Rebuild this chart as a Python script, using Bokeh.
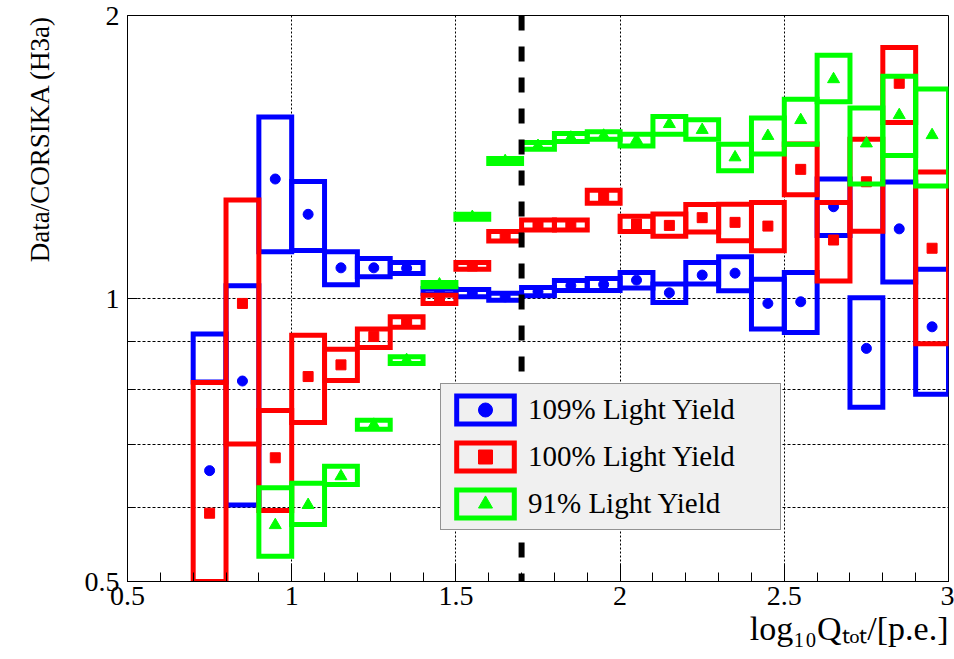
from bokeh.plotting import figure
from bokeh.models import (ColumnDataSource, FixedTicker, PrintfTickFormatter,
                          Span, Legend, LegendItem, Title)
from bokeh.embed import file_html
from bokeh.resources import INLINE

# log10(Q_tot / p.e.) bin centres, bins are 0.1 wide
log_q = [0.75, 0.85, 0.95, 1.05, 1.15, 1.25, 1.35, 1.45, 1.55, 1.65, 1.75, 1.85,
         1.95, 2.05, 2.15, 2.25, 2.35, 2.45, 2.55, 2.65, 2.75, 2.85, 2.95]
log_q_91 = [0.95, 1.05, 1.15, 1.25, 1.35, 1.45, 1.55, 1.65, 1.75, 1.85,
            1.95, 2.05, 2.15, 2.25, 2.35, 2.45, 2.55, 2.65, 2.75, 2.85, 2.95]
bin_half_width = 0.05

# 109% light yield: ratio and systematic band
ratio_109 = [0.656, 0.817, 1.340, 1.229, 1.078, 1.078, 1.077, 1.019, 1.013, 1.004, 1.017, 1.032,
             1.035, 1.046, 1.014, 1.059, 1.064, 0.988, 0.992, 1.252, 0.885, 1.186, 0.933]
sys_lo_109 = [0.815, 0.603, 1.121, 1.125, 1.034, 1.055, 1.063, 1.012, 1.004, 0.996, 1.007, 1.020,
              1.020, 1.026, 0.990, 1.036, 1.019, 0.928, 0.920, 1.167, 0.766, 1.041, 0.791]
sys_hi_109 = [0.917, 1.032, 1.560, 1.332, 1.121, 1.103, 1.092, 1.025, 1.022, 1.013, 1.027, 1.045,
              1.050, 1.066, 1.036, 1.092, 1.108, 1.048, 1.066, 1.340, 1.002, 1.330, 1.074]

# 100% light yield
ratio_100 = [0.591, 0.988, 0.677, 0.826, 0.850, 0.911, 0.944, 0.998, 1.083, 1.165, 1.197, 1.197,
             1.284, 1.200, 1.196, 1.219, 1.205, 1.194, 1.372, 1.154, 1.331, 1.694, 1.131]
sys_lo_100 = [0.500, 0.700, 0.595, 0.738, 0.818, 0.887, 0.932, 0.988, 1.074, 1.151, 1.183, 1.183,
              1.263, 1.178, 1.165, 1.177, 1.152, 1.124, 1.289, 1.044, 1.179, 1.539, 0.895]
sys_hi_100 = [0.814, 1.273, 0.760, 0.914, 0.883, 0.928, 0.956, 1.008, 1.092, 1.178, 1.212, 1.212,
              1.304, 1.223, 1.230, 1.259, 1.260, 1.265, 1.460, 1.265, 1.477, 1.849, 1.363]

# 91% light yield
ratio_91 = [0.574, 0.603, 0.647, 0.734, 0.860, 1.035, 1.221, 1.400, 1.453, 1.483,
            1.490, 1.474, 1.533, 1.511, 1.413, 1.489, 1.548, 1.711, 1.462, 1.567, 1.492]
sys_lo_91 = [0.532, 0.575, 0.634, 0.726, 0.853, 1.029, 1.214, 1.392, 1.441, 1.469,
             1.477, 1.453, 1.495, 1.477, 1.367, 1.425, 1.459, 1.619, 1.324, 1.419, 1.317]
sys_hi_91 = [0.629, 0.636, 0.663, 0.742, 0.867, 1.040, 1.229, 1.409, 1.465, 1.498,
             1.504, 1.495, 1.562, 1.549, 1.459, 1.556, 1.629, 1.815, 1.595, 1.723, 1.671]

legend_labels = ["109% Light Yield", "100% Light Yield", "91% Light Yield"]
x_title = "log\u2081\u2080Q\u209c\u2092\u209c/[p.e.]"
y_title = "Data/CORSIKA (H3a)"
x_ticks = [0.5, 1.0, 1.5, 2.0, 2.5, 3.0]
y_ticks = [0.5, 1.0, 2.0]
y_minor_ticks = [0.6, 0.7, 0.8, 0.9]
cut_position = 1.7

FONT = "Liberation Serif"
W, H = 954, 659


def make_source(centres, ratio, lo, hi):
    return ColumnDataSource(dict(
        x=centres,
        left=[c - bin_half_width for c in centres],
        right=[c + bin_half_width for c in centres],
        val=ratio, lo=lo, hi=hi,
    ))


p = figure(width=W, height=H, x_range=(0.5, 3.0), y_range=(0.5, 2.0),
           y_axis_type="log", output_backend="svg", toolbar_location=None,
           min_border_left=127, min_border_right=6, min_border_top=15,
           min_border_bottom=78)
p.title.visible = False
p.background_fill_color = "white"
p.border_fill_color = "white"
p.outline_line_color = "black"
p.outline_line_width = 1

series = [
    (log_q, ratio_109, sys_lo_109, sys_hi_109, "#0000ff", "circle", 10),
    (log_q, ratio_100, sys_lo_100, sys_hi_100, "#ff0000", "square", 10),
    (log_q_91, ratio_91, sys_lo_91, sys_hi_91, "#00ff00", "triangle", 12),
]

items = []
for (centres, ratio, lo, hi, color, marker, size), label in zip(series, legend_labels):
    src = make_source(centres, ratio, lo, hi)
    box = p.quad(left="left", right="right", bottom="lo", top="hi", source=src,
                 fill_alpha=0, line_color=color, line_width=5, line_join="miter")
    pts = p.scatter(x="x", y="val", source=src, marker=marker, size=size,
                    fill_color=color, line_color=color)
    items.append(LegendItem(label=label, renderers=[box, pts]))

# axes
p.xaxis.ticker = FixedTicker(ticks=x_ticks,
                             minor_ticks=[round(0.5 + 0.1 * i, 1) for i in range(26)])
p.yaxis.ticker = FixedTicker(ticks=y_ticks, minor_ticks=y_minor_ticks)
for ax in (p.xaxis[0], p.yaxis[0]):
    ax.formatter = PrintfTickFormatter(format="%g")
    ax.major_label_text_font = FONT
    ax.major_label_text_font_size = "28px"
    ax.major_label_text_color = "black"
    ax.axis_line_color = "black"
    ax.major_tick_line_color = "black"
    ax.minor_tick_line_color = "black"
    ax.major_tick_out = 0
    ax.minor_tick_out = 0
p.xaxis.major_tick_in = 18
p.xaxis.minor_tick_in = 9
p.xaxis.major_label_standoff = 5
p.yaxis.major_tick_in = 10
p.yaxis.minor_tick_in = 8
p.yaxis.major_label_standoff = 8

# axis titles flush with the top / right end of their axes
p.add_layout(Title(text=y_title, align="right", vertical_align="top",
                   text_font=FONT, text_font_size="27px",
                   text_font_style="normal", text_color="black",
                   standoff=49), "left")
p.add_layout(Title(text=x_title, align="right", text_font=FONT,
                   text_font_size="34px", text_font_style="normal",
                   text_color="black", standoff=0), "below")

# grids
p.xgrid.grid_line_color = "black"
p.xgrid.grid_line_dash = "2 2"
p.xgrid.grid_line_width = 1
p.ygrid.grid_line_color = "black"
p.ygrid.grid_line_dash = "3 2"
p.ygrid.minor_grid_line_color = "black"
p.ygrid.minor_grid_line_dash = "3 2"

legend = Legend(items=items, location=(313, 51), orientation="vertical",
                padding=8, margin=0, spacing=12, glyph_width=72, glyph_height=35,
                label_standoff=7, label_width=244, label_height=30,
                label_text_font=FONT, label_text_font_size="29px",
                label_text_color="black",
                background_fill_color="#f0f0f0", background_fill_alpha=1.0,
                border_line_color="#333333", border_line_width=1.5)
p.add_layout(legend, "center")

# analysis threshold
p.add_layout(Span(location=cut_position, dimension="height", line_color="black",
                  line_width=6, line_dash="15 16", level="overlay"))

open("out.html", "w").write(file_html(p, INLINE))
